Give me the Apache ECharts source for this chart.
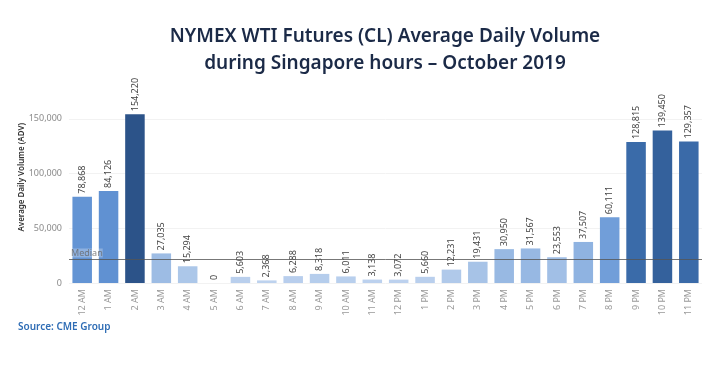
<!DOCTYPE html>
<html><head><meta charset="utf-8">
<script src="https://cdn.jsdelivr.net/npm/echarts@6/dist/echarts.min.js"></script>
<style>html,body{margin:0;padding:0;background:#fff}#c{width:720px;height:376px}</style>
</head><body><div id="c"></div>
<script>
const categories = ['12 AM','1 AM','2 AM','3 AM','4 AM','5 AM','6 AM','7 AM','8 AM','9 AM','10 AM','11 AM','12 PM','1 PM','2 PM','3 PM','4 PM','5 PM','6 PM','7 PM','8 PM','9 PM','10 PM','11 PM'];
const adv = [78868,84126,154220,27035,15294,0,5603,2368,6288,8318,6011,3138,3072,5660,12231,19431,30950,31567,23553,37507,60111,128815,139450,129357];
const yTicks = [0,50000,100000,150000];
const titleLines = ['NYMEX WTI Futures (CL) Average Daily Volume','during Singapore hours – October 2019'];

const sorted = adv.slice().sort((a,b)=>a-b);
const n = sorted.length;
const median = n%2 ? sorted[(n-1)/2] : (sorted[n/2-1]+sorted[n/2])/2;

const chart = echarts.init(document.getElementById('c'));
const fmt = v => v.toLocaleString('en-US');
chart.setOption({
  animation:false,
  title:{text:titleLines.join('\n'),left:380,top:18,textAlign:'center',
    textStyle:{fontFamily:'Noto Sans',fontSize:19,fontWeight:600,color:'#1b2a47',lineHeight:27}},
  graphic:[{type:'text',left:18,top:322,style:{text:'Source: CME Group',font:'600 10px "Noto Sans"',fill:'#2f6db5'}}],
  grid:{left:69,right:18,top:91.5,bottom:93},
  visualMap:{show:false,type:'continuous',min:0,max:154220,dimension:1,seriesIndex:0,
    inRange:{color:['#c0d4ef','#98b9e3','#6f9dd8','#5a8dd0','#3d70b0','#2c5389']}},
  xAxis:{type:'category',data:categories,
    axisLine:{show:false},axisTick:{show:false},
    axisLabel:{rotate:90,color:'#999',fontSize:9,fontFamily:'Noto Sans',margin:6,interval:0}},
  yAxis:{type:'value',min:0,max:175000,interval:50000,
    name:'Average Daily Volume (ADV)',nameLocation:'middle',nameGap:43,nameMoveOverlap:false,
    nameTextStyle:{color:'#333',fontSize:8,fontFamily:'Noto Sans',fontWeight:600,padding:[0,0,0,20]},
    axisLabel:{color:'#8a8a8a',fontSize:9,fontFamily:'Noto Sans',margin:7,formatter:v=>yTicks.includes(v)?fmt(v):'',showMaxLabel:false},
    splitLine:{showMaxLine:false,lineStyle:{color:'#f2f2f2'}},axisLine:{show:false},axisTick:{show:false}},
  series:[{type:'bar',data:adv,barCategoryGap:'26%',
    label:{show:true,position:'top',rotate:90,align:'left',verticalAlign:'middle',distance:3,
      color:'#444',fontSize:9,fontFamily:'Noto Sans',formatter:p=>fmt(p.value)}},
    {type:'line',data:[],z:10,
     markLine:{symbol:'none',silent:true,
      lineStyle:{color:'#555',type:'solid',width:1,opacity:0.8},
      label:{show:true,position:'insideStartTop',formatter:'Median',color:'#666',fontSize:9,fontFamily:'Noto Sans',distance:[2,2],
        backgroundColor:'rgba(255,255,255,0.35)'},
      data:[{yAxis:median}]}}
  ]
});
</script></body></html>
